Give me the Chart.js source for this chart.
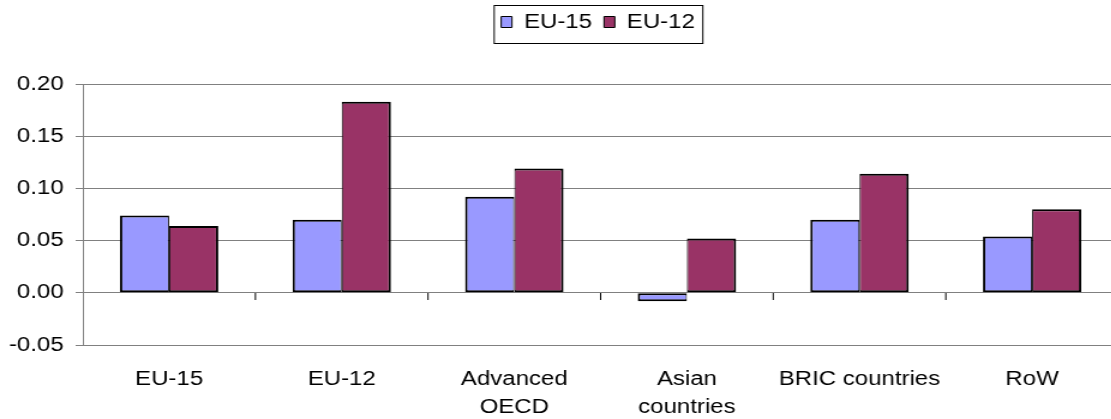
<!DOCTYPE html>
<html>
<head>
<meta charset="utf-8">
<script src="https://cdn.jsdelivr.net/npm/chart.js@4.4.1/dist/chart.umd.min.js"></script>
<style>
  html, body { margin: 0; padding: 0; background: #fff; overflow: hidden; }
  #wrap { width: 1111px; height: 419px; position: relative; overflow: hidden; }
  #c { position: absolute; left: 0; top: 0; transform: scaleX(1.2); transform-origin: 0 0; }
</style>
</head>
<body>
<div id="wrap"><canvas id="c" width="932" height="419"></canvas></div>
<script>
const categories = ['EU-15', 'EU-12', ['Advanced', 'OECD'], ['Asian', 'countries'], 'BRIC countries', 'RoW'];
const seriesNames = ['EU-15', 'EU-12'];
const eu15Values = [0.074, 0.070, 0.092, -0.008, 0.070, 0.054];
const eu12Values = [0.064, 0.183, 0.119, 0.052, 0.114, 0.080];
const yMin = -0.05, yMax = 0.20, yStep = 0.05;

const SX = 1.2; // horizontal stretch of the whole drawing
const FONT = "'Liberation Sans', Arial, sans-serif";
const GRID = '#808080';

const framePlugin = {
  id: 'frame',
  afterLayout(chart) {
    const lg = chart.legend;
    if (!lg) return;
    const pad = lg.options.labels.padding;
    const itemH = lg.options.labels.font.size;
    const dx = 598 / SX - (lg.left + lg.right) / 2;
    const dy = (22 - pad - itemH / 2) - lg.top;
    lg.left += dx; lg.right += dx;
    lg.top += dy; lg.bottom += dy;
  },
  afterDraw(chart) {
    const ctx = chart.ctx;
    const lg = chart.legend;
    const hb = lg.legendHitBoxes;
    if (hb && hb.length) {
      const first = hb[0], last = hb[hb.length - 1];
      const cy = first.top + first.height / 2;
      const l = first.left - 7 / SX;
      const r = last.left + last.width + 8 / SX;
      const t = Math.round(cy - 17) + 0.5;
      const b = Math.round(cy + 21) + 0.5;
      ctx.save();
      ctx.strokeStyle = '#000';
      ctx.lineWidth = 1;
      ctx.strokeRect(l, t, r - l, b - t);
      ctx.restore();
    }
    // category tick marks on the zero line
    const xs = chart.scales.x, ys = chart.scales.y;
    const y0 = Math.round(ys.getPixelForValue(0));
    const n = categories.length;
    const w = (xs.right - xs.left) / n;
    ctx.save();
    ctx.strokeStyle = '#000';
    ctx.lineWidth = 1;
    ctx.beginPath();
    for (let i = 1; i < n; i++) {
      const x = xs.left + i * w;
      ctx.moveTo(x, y0);
      ctx.lineTo(x, y0 + 7);
    }
    ctx.stroke();
    ctx.restore();
  }
};

new Chart(document.getElementById('c'), {
  type: 'bar',
  data: {
    labels: categories,
    datasets: [
      { label: seriesNames[0], data: eu15Values, backgroundColor: '#9999FF', borderColor: '#000',
        borderWidth: { top: 2, bottom: 2, left: 2, right: 1 }, borderSkipped: false },
      { label: seriesNames[1], data: eu12Values, backgroundColor: '#993366', borderColor: '#000',
        borderWidth: { top: 2, bottom: 2, left: 1, right: 2 }, borderSkipped: false }
    ]
  },
  options: {
    responsive: false,
    animation: false,
    devicePixelRatio: 1,
    categoryPercentage: 0.57,
    barPercentage: 1.0,
    layout: { padding: { top: 44, left: 0, right: 0, bottom: 0 } },
    plugins: {
      legend: {
        position: 'top',
        labels: {
          font: { family: FONT, size: 20 },
          color: '#000',
          boxWidth: 9,
          boxHeight: 11,
          padding: 10,
          generateLabels(chart) {
            return chart.data.datasets.map((ds, i) => ({
              text: ds.label,
              fillStyle: ds.backgroundColor,
              strokeStyle: '#000',
              lineWidth: 1,
              hidden: false,
              datasetIndex: i,
              fontColor: '#000'
            }));
          }
        }
      },
      tooltip: { enabled: false }
    },
    scales: {
      x: {
        grid: { display: false },
        border: { display: false },
        ticks: {
          font: { family: FONT, size: 20, lineHeight: 1.42 },
          color: '#000',
          padding: 12,
          maxRotation: 0,
          autoSkip: false
        },
        afterFit(scale) { scale.height = 74; }
      },
      y: {
        min: yMin,
        max: yMax,
        grid: { color: GRID, lineWidth: 1, tickLength: 6, tickColor: GRID },
        border: { display: true, color: GRID, width: 1 },
        ticks: {
          stepSize: yStep,
          font: { family: FONT, size: 20 },
          color: '#000',
          padding: 10,
          callback: (v) => Number(v).toFixed(2)
        },
        afterFit(scale) { scale.width = 69; }
      }
    }
  },
  plugins: [framePlugin]
});
</script>
</body>
</html>
